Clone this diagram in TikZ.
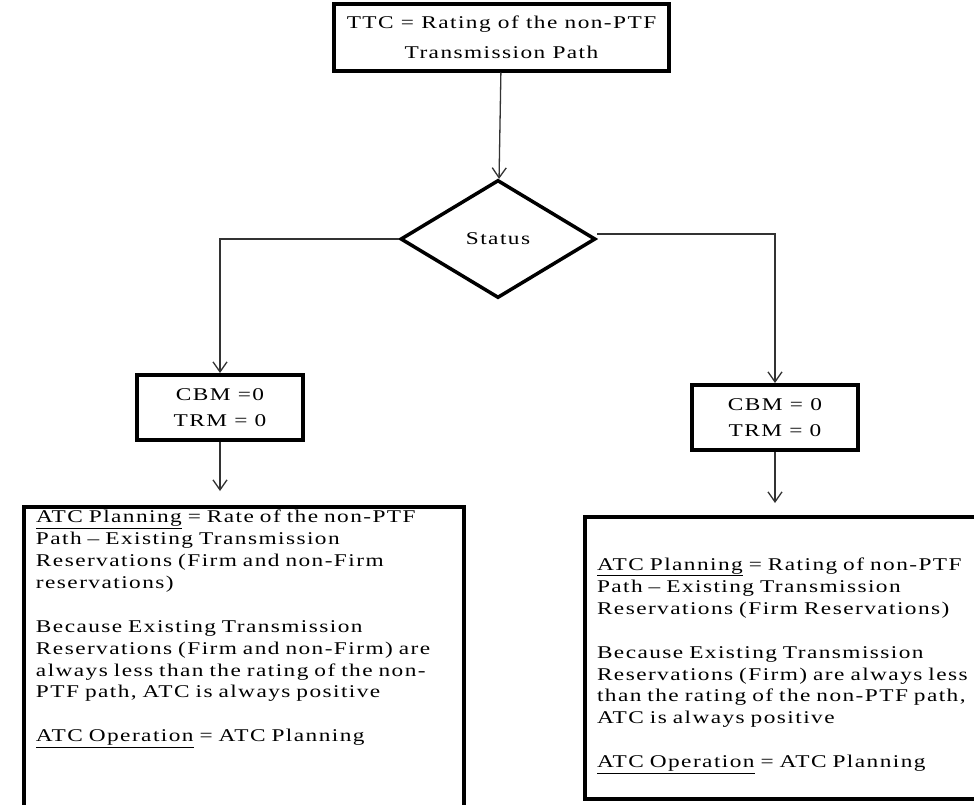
\documentclass[tikz,border=0pt]{standalone}
\usepackage{fontspec}
\setmainfont{Liberation Serif}[FakeStretch=1.3,LetterSpace=8]
\usetikzlibrary{shapes.geometric,arrows.meta}

\tikzset{
  blockbox/.style={draw,line width=4bp,rectangle,align=center,inner sep=0pt,
    font=\fontsize{18}{26}\selectfont},
  planbox/.style={draw,line width=4bp,rectangle,align=left,anchor=north west,
    inner xsep=12bp,inner ysep=3bp,font=\fontsize{18}{22}\selectfont},
  statusbox/.style={draw,line width=3.5bp,diamond,inner sep=0pt,
    minimum width=195bp,minimum height=118bp,font=\fontsize{18}{20}\selectfont},
  flow/.style={draw=black!80,line width=1.3bp},
}

\begin{document}
\begin{tikzpicture}[x=1bp,y=-1bp,>={Straight Barb[length=10bp,width=14bp]}]
  \useasboundingbox (0,0) rectangle (974,805);
  \clip (0,0) rectangle (974,805);
  \fill[white] (0,0) rectangle (974,805);
%%
  % Node: TTC
  \node (ttc) [blockbox,minimum width=335bp,minimum height=66bp,
    font=\fontsize{18}{30}\selectfont] at (501.5,37.5)
    {TTC = Rating of the non-PTF\\Transmission Path};
  % Node: Status
  \node (status) [statusbox] at (498,239) {Status};
  % Node: LeftMargins
  \node (leftcbm) [blockbox,minimum width=166bp,minimum height=65bp] at (220,407.5)
    {CBM =0\\TRM = 0};
  % Node: RightMargins
  \node (rightcbm) [blockbox,minimum width=166bp,minimum height=65bp] at (775,417.5)
    {CBM = 0\\TRM = 0};
  % Node: LeftPlanning
  \node (leftplan) [planbox,text width=416bp] at (22,505)
    {\underline{ATC Planning} = Rate of the non-PTF\\
     Path -- Existing Transmission\\
     Reservations (Firm and non-Firm\\
     reservations)\\
     \mbox{}\\
     Because Existing Transmission\\
     Reservations (Firm and non-Firm) are\\
     always less than the rating of the non-\\
     PTF path, ATC is always positive\\
     \mbox{}\\
     \underline{ATC Operation} = ATC Planning\\[90bp]\mbox{}};
  % Node: RightPlanning
  \node (rightplan) [planbox,text width=390bp,minimum height=282bp] at (583,515)
    {\mbox{}\\[6bp]
     \underline{ATC Planning} = Rating of non-PTF\\
     Path -- Existing Transmission\\
     Reservations (Firm Reservations)\\
     \mbox{}\\
     Because Existing Transmission\\
     Reservations (Firm) are always less\\
     than the rating of the non-PTF path,\\
     ATC is always positive\\
     \mbox{}\\
     \underline{ATC Operation} = ATC Planning};
%%
  % Edge: TTC -> Status
  \draw [flow,->] (ttc) -- (status);
  % Edge: Status -> LeftMargins
  \draw [flow,->] (status.west) -| (leftcbm.north);
  % Edge: Status -> RightMargins
  \draw [flow,->] ([yshift=5bp]status.east) -| (rightcbm.north);
  % Edge: LeftMargins -> LeftPlanning
  \draw [flow,->,shorten >=14bp] (leftcbm) -- (leftcbm |- leftplan.north);
  % Edge: RightMargins -> RightPlanning
  \draw [flow,->,shorten >=12bp] (rightcbm) -- (rightcbm |- rightplan.north);
%
\end{tikzpicture}
\end{document}
